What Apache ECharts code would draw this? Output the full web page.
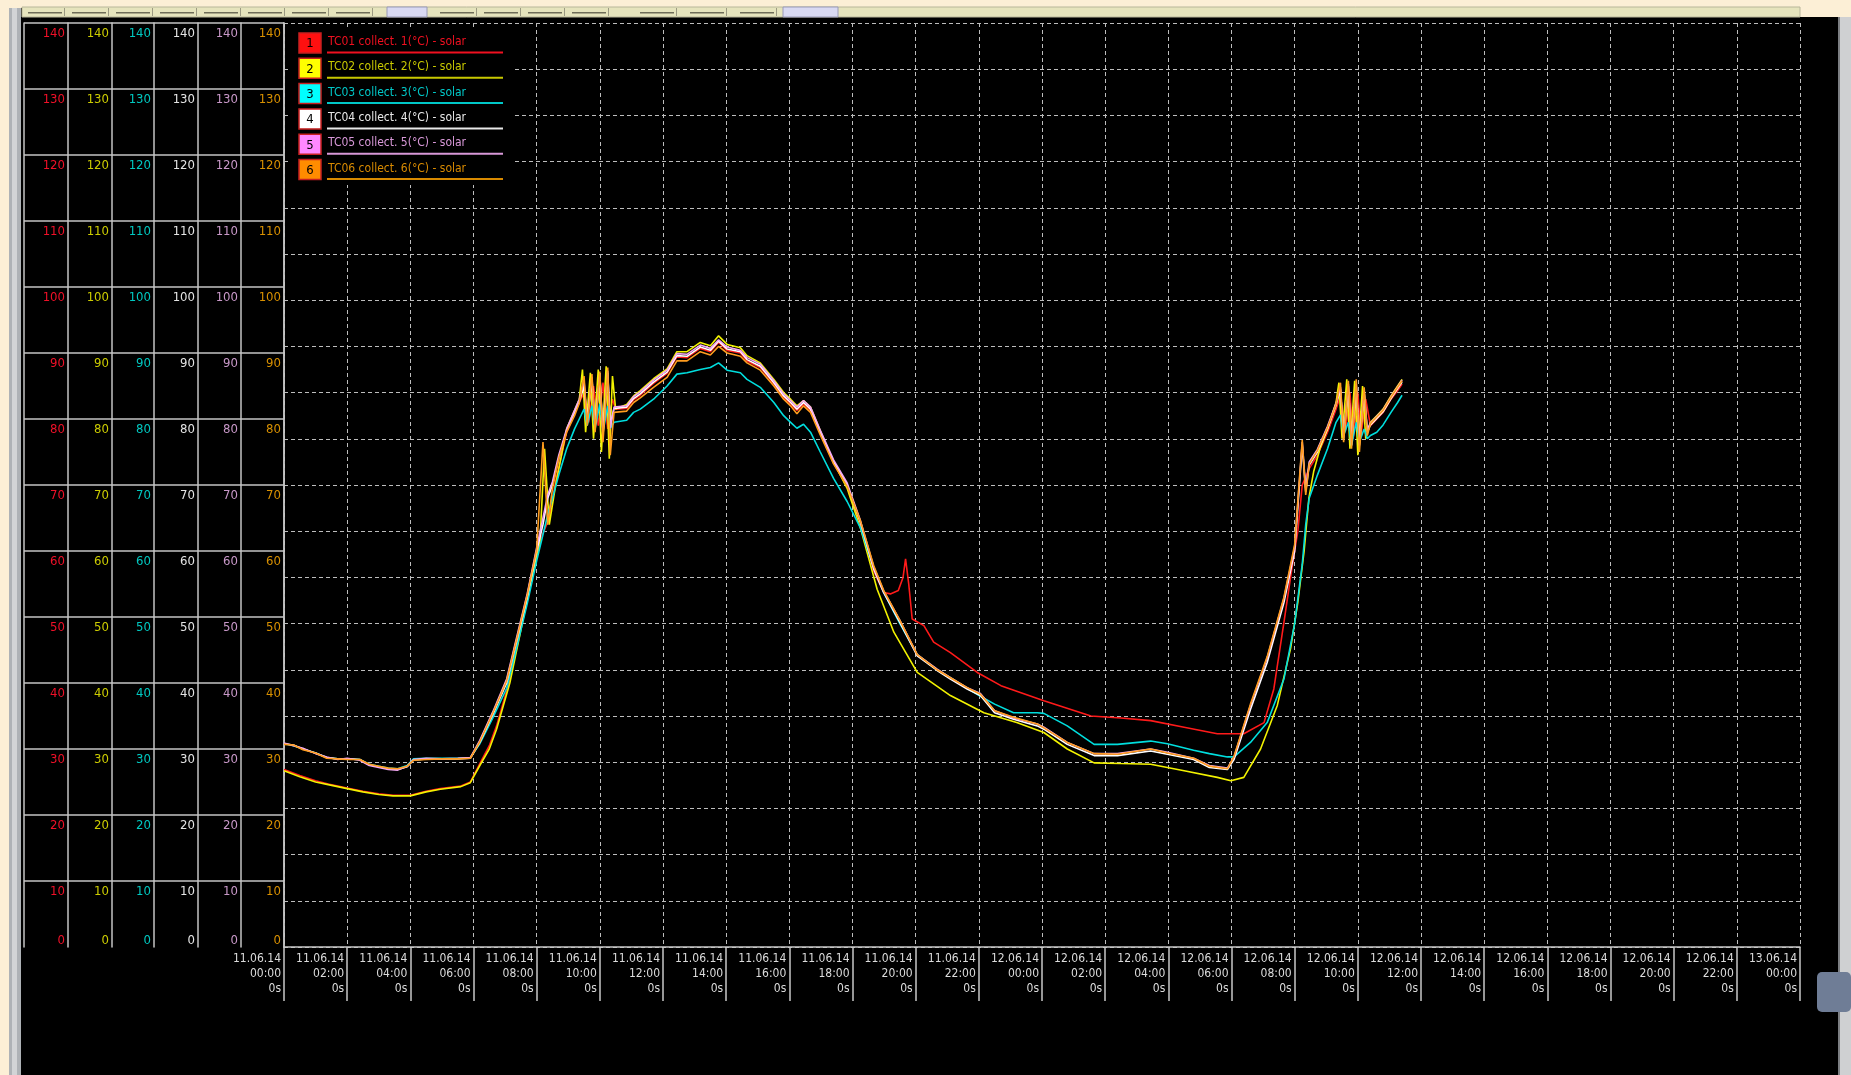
<!DOCTYPE html>
<html><head><meta charset="utf-8">
<script src="https://cdn.jsdelivr.net/npm/echarts@6/dist/echarts.min.js"></script>
<style>html,body{margin:0;padding:0;background:#000;overflow:hidden}#c{width:1851px;height:1075px}</style>
</head><body><div id="c"></div>
<script>
const seriesNames = [
  'TC01 collect. 1(°C) - solar',
  'TC02 collect. 2(°C) - solar',
  'TC03 collect. 3(°C) - solar',
  'TC04 collect. 4(°C) - solar',
  'TC05 collect. 5(°C) - solar',
  'TC06 collect. 6(°C) - solar'
];
const seriesNumbers = ['1', '2', '3', '4', '5', '6'];
const seriesColors = ['#ff1a1a', '#f2f200', '#00dede', '#ffffff', '#f4a8f4', '#ff9c1e'];
const legendTextColors = ['#f01020', '#c8c800', '#00c8c8', '#e8e8e8', '#d898d8', '#d88a00'];
const legendBoxColors = ['#ff1010', '#ffff00', '#00ffff', '#ffffff', '#ff88ff', '#ff8c00'];
const panelColors = ['#f01028', '#cccc00', '#00c8c0', '#e4e4e4', '#c898c8', '#d89000'];

const xTickLabels = [
  '11.06.14\n00:00\n0s', '11.06.14\n02:00\n0s', '11.06.14\n04:00\n0s', '11.06.14\n06:00\n0s',
  '11.06.14\n08:00\n0s', '11.06.14\n10:00\n0s', '11.06.14\n12:00\n0s', '11.06.14\n14:00\n0s',
  '11.06.14\n16:00\n0s', '11.06.14\n18:00\n0s', '11.06.14\n20:00\n0s', '11.06.14\n22:00\n0s',
  '12.06.14\n00:00\n0s', '12.06.14\n02:00\n0s', '12.06.14\n04:00\n0s', '12.06.14\n06:00\n0s',
  '12.06.14\n08:00\n0s', '12.06.14\n10:00\n0s', '12.06.14\n12:00\n0s', '12.06.14\n14:00\n0s',
  '12.06.14\n16:00\n0s', '12.06.14\n18:00\n0s', '12.06.14\n20:00\n0s', '12.06.14\n22:00\n0s',
  '13.06.14\n00:00\n0s'
];

// hours since 11.06.14 00:00 (shared by TC03..TC06)
const hoursA = [
  0, 0.3, 0.6, 1.0, 1.35, 1.7, 2.0, 2.4, 2.7, 3.0,
  3.3, 3.6, 3.9, 4.1, 4.5, 5.0, 5.5, 5.9, 6.2, 6.6,
  7.05, 7.4, 7.7, 8.0, 8.2, 8.35, 8.5, 8.7, 8.95, 9.2,
  9.35, 9.5, 9.6, 9.75, 9.85, 10.0, 10.1, 10.25, 10.33, 10.45,
  10.85, 11.07, 11.28, 11.7, 12.13, 12.44, 12.76, 13.18, 13.5, 13.76,
  14.03, 14.45, 14.66, 15.08, 15.51, 15.82, 16.04, 16.24, 16.45, 16.67,
  16.98, 17.4, 17.83, 18.25, 18.67, 18.99, 19.5, 20.05, 20.68, 21.1,
  21.63, 22.05, 22.5, 23.1, 23.85, 24.06, 24.8, 25.65, 26.39, 27.44,
  27.97, 28.8, 29.3, 29.87, 30.08, 30.6, 31.13, 31.66, 32.0, 32.24,
  32.35, 32.46, 32.72, 33.04, 33.31, 33.45, 33.55, 33.7, 33.8, 33.95,
  34.05, 34.2, 34.3, 34.4, 34.6, 34.8, 35.05, 35.26, 35.4
];
const tc03 = [
  30.8, 30.5, 30.0, 29.4, 28.7, 28.5, 28.5, 28.4, 27.7, 27.4,
  27.1, 27.0, 27.5, 28.5, 28.6, 28.6, 28.6, 28.7, 30.8, 34.6,
  39.2, 46.0, 52.0, 58.5, 62.5, 65.5, 68.0, 71.5, 75.5, 78.5,
  80.0, 81.5, 79.0, 82.0, 78.5, 82.3, 78.0, 82.0, 78.6, 79.5,
  79.8, 81.0, 81.5, 83.0, 85.0, 86.8, 87.0, 87.5, 87.8, 88.5,
  87.4, 87.0, 86.0, 84.8, 82.5, 80.5, 79.5, 78.6, 79.2, 78.0,
  75.0, 71.0, 67.5, 63.5, 57.5, 53.7, 49.0, 44.3, 42.0, 40.8,
  39.2, 38.0, 36.8, 35.5, 35.5, 35.4, 33.5, 30.7, 30.7, 31.2,
  30.8, 29.8, 29.3, 28.8, 28.8, 31.0, 34.0, 40.6, 49.0, 58.0,
  64.0, 68.0, 71.5, 75.5, 79.5, 80.6, 77.5, 79.5, 76.0, 79.5,
  76.5, 78.5, 77.0, 77.5, 78.0, 79.1, 81.0, 82.5, 83.6
];
const tc04 = [
  30.8, 30.6, 30.0, 29.4, 28.7, 28.5, 28.5, 28.4, 27.6, 27.3,
  27.0, 26.9, 27.3, 28.3, 28.5, 28.5, 28.5, 28.6, 31.0, 35.1,
  40.0, 47.0, 53.0, 60.0, 64.0, 68.0, 70.0, 74.0, 78.2, 81.0,
  82.6, 85.0, 80.0, 86.0, 79.0, 86.5, 78.0, 87.0, 79.0, 81.6,
  81.8, 83.1, 83.8, 85.6, 87.1, 89.6, 89.5, 90.9, 90.4, 91.8,
  90.6, 90.2, 89.0, 88.0, 85.5, 83.5, 82.5, 81.5, 82.5, 81.5,
  78.0, 73.5, 70.0, 64.4, 57.3, 53.7, 49.2, 44.1, 41.9, 40.6,
  39.1, 38.1, 35.5, 34.5, 33.5, 33.0, 30.7, 29.0, 29.0, 29.7,
  29.2, 28.4, 27.2, 26.9, 28.4, 36.0, 43.1, 52.2, 60.0, 76.0,
  69.0, 73.0, 75.0, 78.5, 82.1, 84.5, 77.0, 85.0, 76.0, 85.0,
  76.0, 84.0, 78.0, 79.1, 80.1, 81.1, 83.1, 84.6, 85.6
];
const tc05 = [
  30.9, 30.5, 30.1, 29.3, 28.8, 28.4, 28.6, 28.3, 27.5, 27.2,
  26.9, 26.8, 27.4, 28.4, 28.6, 28.5, 28.6, 28.7, 31.3, 35.5,
  40.6, 47.6, 53.5, 60.5, 65.0, 68.5, 70.5, 74.5, 78.5, 81.3,
  83.0, 85.8, 79.5, 86.3, 78.8, 86.8, 77.5, 87.3, 78.6, 81.8,
  82.0, 83.4, 84.1, 85.9, 87.4, 89.9, 89.8, 91.2, 90.7, 92.0,
  90.9, 90.4, 89.3, 88.3, 85.8, 83.8, 82.8, 81.8, 82.8, 81.8,
  78.3, 73.8, 70.3, 64.6, 57.6, 53.9, 49.5, 44.3, 42.1, 40.8,
  39.3, 38.4, 35.8, 34.7, 33.8, 33.3, 31.0, 29.3, 29.3, 30.0,
  29.5, 28.6, 27.5, 27.1, 28.8, 36.6, 43.8, 52.8, 60.6, 76.5,
  69.5, 73.5, 75.4, 78.9, 82.4, 84.8, 77.5, 85.3, 76.6, 85.3,
  76.5, 84.3, 78.4, 79.4, 80.4, 81.4, 83.4, 84.9, 85.9
];
const tc06 = [
  30.7, 30.6, 29.9, 29.4, 28.6, 28.5, 28.4, 28.4, 27.7, 27.4,
  27.1, 27.0, 27.4, 28.3, 28.4, 28.5, 28.5, 28.6, 31.1, 35.3,
  40.3, 47.3, 53.3, 60.2, 76.5, 64.0, 69.5, 74.0, 78.0, 80.5,
  82.4, 86.5, 79.0, 86.8, 78.0, 87.2, 76.5, 87.8, 74.5, 81.0,
  81.2, 82.5, 83.2, 84.8, 86.3, 88.8, 88.8, 90.2, 89.7, 91.0,
  90.0, 89.5, 88.5, 87.4, 85.0, 83.0, 82.0, 80.8, 82.0, 81.0,
  77.6, 73.2, 69.8, 64.6, 57.8, 54.0, 49.5, 44.3, 42.0, 40.8,
  39.3, 38.3, 35.8, 34.8, 33.8, 33.2, 31.0, 29.3, 29.2, 30.0,
  29.4, 28.6, 27.4, 27.0, 28.9, 36.8, 44.0, 53.0, 61.0, 76.8,
  68.5, 73.2, 75.2, 78.7, 82.2, 85.5, 76.5, 85.8, 75.5, 86.0,
  75.0, 84.8, 77.5, 79.3, 80.3, 81.3, 83.3, 84.8, 85.8
];
// [hour, °C]
const tc01 = [
  [0, 26.9], [0.5, 26.0], [1.0, 25.2], [1.4, 24.7], [2.0, 24.1], [2.5, 23.6], [3.0, 23.2], [3.45, 23.0],
  [4.0, 23.0], [4.5, 23.6], [4.95, 24.0], [5.6, 24.4], [5.9, 25.0], [6.2, 27.8], [6.5, 30.5], [6.73, 33.5],
  [7.15, 40.5], [7.5, 48.5], [7.8, 55.5], [8.1, 61.5], [8.4, 65.0], [8.6, 70.5], [8.95, 78.0], [9.35, 82.5],
  [9.5, 84.0], [9.65, 79.5], [9.8, 85.0], [9.95, 79.0], [10.1, 85.5], [10.25, 78.5], [10.4, 83.0], [10.5, 81.5],
  [10.85, 81.6], [11.07, 82.9], [11.28, 83.6], [11.7, 85.4], [12.13, 86.9], [12.44, 89.4], [12.76, 89.3], [13.18, 90.7],
  [13.5, 90.2], [13.76, 91.6], [14.03, 90.4], [14.45, 90.0], [14.66, 88.8], [15.08, 87.8], [15.51, 85.3], [15.82, 83.3],
  [16.04, 82.3], [16.24, 81.3], [16.45, 82.3], [16.67, 81.3], [16.98, 77.8], [17.4, 73.3], [17.83, 69.8], [18.25, 64.2],
  [18.67, 57.0], [18.99, 53.7], [19.2, 53.5], [19.45, 54.0], [19.6, 56.0], [19.68, 58.8], [19.78, 55.0], [19.89, 49.7],
  [20.26, 48.7], [20.57, 46.2], [21.1, 44.6], [21.95, 41.6], [22.7, 39.6], [24.06, 37.3], [25.55, 35.0], [26.5, 34.7],
  [27.44, 34.3], [28.5, 33.3], [29.55, 32.3], [30.39, 32.3], [31.03, 34.0], [31.34, 39.1], [31.66, 49.2], [31.9, 57.0],
  [32.1, 63.0], [32.24, 70.0], [32.46, 72.5], [32.72, 74.5], [33.04, 78.0], [33.31, 81.5], [33.45, 83.5], [33.6, 78.0],
  [33.75, 84.0], [33.85, 77.0], [34.0, 84.0], [34.1, 77.5], [34.25, 83.0], [34.4, 79.0], [34.6, 80.0], [34.8, 81.0],
  [35.05, 83.0], [35.26, 84.3], [35.4, 85.3]
];
const tc02 = [
  [0, 26.7], [0.5, 25.8], [1.0, 25.0], [1.4, 24.6], [2.0, 24.0], [2.5, 23.5], [3.0, 23.1], [3.45, 22.9],
  [4.0, 22.9], [4.5, 23.5], [4.95, 23.9], [5.6, 24.3], [5.9, 24.9], [6.2, 27.5], [6.5, 30.0], [6.73, 33.0],
  [7.15, 40.0], [7.5, 48.0], [7.8, 55.0], [8.1, 61.0], [8.25, 75.5], [8.4, 64.0], [8.6, 70.0], [8.95, 78.5],
  [9.35, 83.0], [9.45, 87.5], [9.55, 78.0], [9.7, 87.0], [9.8, 77.0], [9.95, 87.5], [10.05, 75.0], [10.2, 88.0],
  [10.3, 74.0], [10.4, 86.5], [10.5, 81.5], [10.85, 82.2], [11.07, 83.5], [11.28, 84.3], [11.7, 86.1], [12.13, 87.6],
  [12.44, 90.2], [12.76, 90.2], [13.18, 91.6], [13.5, 91.1], [13.76, 92.6], [14.03, 91.3], [14.45, 90.8], [14.66, 89.6],
  [15.08, 88.5], [15.51, 86.0], [15.82, 84.0], [16.04, 83.0], [16.24, 82.0], [16.45, 82.8], [16.67, 81.8], [16.98, 78.2],
  [17.4, 73.5], [17.83, 69.5], [18.25, 63.5], [18.78, 54.2], [19.31, 47.7], [20.05, 41.6], [21.1, 38.1], [22.16, 35.5],
  [23.2, 34.0], [24.06, 32.5], [24.8, 30.0], [25.65, 27.9], [26.5, 27.8], [27.44, 27.7], [28.5, 26.7], [29.55, 25.7],
  [29.98, 25.2], [30.39, 25.7], [30.92, 30.0], [31.45, 36.6], [31.87, 45.2], [32.1, 52.2], [32.3, 60.0], [32.45, 68.0],
  [32.6, 72.0], [32.8, 75.5], [33.04, 78.5], [33.31, 82.5], [33.4, 85.5], [33.5, 77.0], [33.65, 86.0], [33.75, 75.5],
  [33.9, 85.8], [34.0, 74.5], [34.15, 85.0], [34.25, 77.0], [34.4, 79.5], [34.6, 80.5], [34.8, 81.5], [35.05, 83.5],
  [35.26, 85.0], [35.4, 86.0]
];

const FONT = "'Liberation Sans Narrow','Arial Narrow','DejaVu Sans Condensed',sans-serif";
const chart = echarts.init(document.getElementById('c'), null, {renderer: 'canvas', width: 1851, height: 1075});

const TOP = 23, H = 924;
const colEdges = [24, 68, 112, 154, 198, 241, 284];
const grids = [{left: 284, top: TOP, width: 1516, height: H}];
const xAxes = [{
  type: 'value', gridIndex: 0, min: 0, max: 48, interval: 2,
  axisLine: {show: true, onZero: false, lineStyle: {color: '#c8c8c8', width: 1.5}},
  axisTick: {show: true, length: 54, lineStyle: {color: '#c8c8c8', width: 1.5}},
  axisLabel: {
    formatter: v => xTickLabels[Math.round(v / 2)],
    align: 'right', margin: 4, padding: [0, 3, 0, 0],
    color: '#dcdcdc', fontFamily: FONT, fontSize: 12, lineHeight: 15
  },
  splitLine: {show: true, lineStyle: {color: '#bdbdbd', type: [4, 3], width: 1}}
}];
const yAxes = [{
  type: 'value', gridIndex: 0, min: 0, max: 140, interval: 7,
  axisLine: {show: true, onZero: false, lineStyle: {color: '#c8c8c8', width: 1.5}},
  axisTick: {show: false}, axisLabel: {show: false},
  splitLine: {show: true, lineStyle: {color: '#bdbdbd', type: [4, 3], width: 1}}
}];
for (let i = 0; i < 6; i++) {
  grids.push({left: colEdges[i], top: TOP, width: colEdges[i + 1] - colEdges[i], height: H});
  xAxes.push({type: 'value', gridIndex: i + 1, min: 0, max: 1, show: false});
  const c = panelColors[i];
  yAxes.push({
    type: 'value', gridIndex: i + 1, position: 'right', min: 0, max: 140, interval: 10,
    axisLine: {show: true, onZero: false, lineStyle: {color: '#c4c4c4', width: 1.5}},
    axisTick: {show: false},
    axisLabel: {
      inside: true, margin: 3,
      formatter: v => (v === 0 ? '{z|0}' : '{n|' + v + '}'),
      rich: {
        n: {color: c, fontFamily: FONT, fontSize: 13, padding: [22, 0, 0, 0]},
        z: {color: c, fontFamily: FONT, fontSize: 13, padding: [0, 0, 12, 0]}
      }
    },
    splitLine: {show: true, showMinLine: false, lineStyle: {color: '#c4c4c4', width: 1.5}}
  });
}
yAxes.push({
  type: 'value', gridIndex: 1, position: 'left', min: 0, max: 140,
  axisLine: {show: true, onZero: false, lineStyle: {color: '#c4c4c4', width: 1.5}},
  axisTick: {show: false}, axisLabel: {show: false}, splitLine: {show: false}
});

const seriesData = [
  tc01,
  tc02,
  hoursA.map((h, i) => [h, tc03[i]]),
  hoursA.map((h, i) => [h, tc04[i]]),
  hoursA.map((h, i) => [h, tc05[i]]),
  hoursA.map((h, i) => [h, tc06[i]])
];
const series = seriesNames.map((n, i) => ({
  name: n, type: 'line', xAxisIndex: 0, yAxisIndex: 0,
  data: seriesData[i], showSymbol: false, symbol: 'none',
  lineStyle: {color: seriesColors[i], width: 1.6}, itemStyle: {color: seriesColors[i]},
  z: 3 + i, silent: true
}));

// window decorations + legend
const graphics = [
  {type: 'rect', shape: {x: 0, y: 0, width: 1851, height: 8}, style: {fill: '#fcefd6'}, z: 50},
  {type: 'rect', shape: {x: 1800, y: 0, width: 51, height: 17}, style: {fill: '#fcefd6'}, z: 50},
  {type: 'rect', shape: {x: 22, y: 7, width: 1778, height: 10}, style: {fill: '#e6e4bd', stroke: '#b8b69a', lineWidth: 1}, z: 50},
  {type: 'rect', shape: {x: 387, y: 7, width: 40, height: 10}, style: {fill: '#d9d9f2', stroke: '#9a9ab8', lineWidth: 1}, z: 51},
  {type: 'rect', shape: {x: 783, y: 7, width: 55, height: 10}, style: {fill: '#d9d9f2', stroke: '#9a9ab8', lineWidth: 1}, z: 51},
  {type: 'rect', shape: {x: 0, y: 0, width: 9, height: 1075}, style: {fill: '#fcefd6'}, z: 50},
  {type: 'rect', shape: {x: 9, y: 8, width: 12, height: 1067}, style: {fill: '#aeb2b6'}, z: 50},
  {type: 'rect', shape: {x: 12, y: 8, width: 5, height: 1067}, style: {fill: '#d2d4d6'}, z: 50},
  {type: 'rect', shape: {x: 1838, y: 17, width: 13, height: 1058}, style: {fill: '#cfd0d2'}, z: 50},
  {type: 'rect', shape: {x: 1838, y: 17, width: 2, height: 1058}, style: {fill: '#7c7e82'}, z: 50},
  {type: 'rect', shape: {x: 1817, y: 972, width: 34, height: 40, r: 5}, style: {fill: '#6f7d96'}, z: 51},
  {type: 'rect', shape: {x: 288, y: 27, width: 224, height: 158}, style: {fill: '#000'}, z: 60}
];
// toolbar button marks
const toolbarButtonX = [28, 72, 116, 160, 204, 248, 292, 336, 440, 484, 528, 572, 640, 690, 740];
toolbarButtonX.forEach(x => {
  graphics.push({type: 'rect', shape: {x: x, y: 12, width: 34, height: 1.5}, style: {fill: '#6e6c58'}, z: 51});
  graphics.push({type: 'rect', shape: {x: x + 36, y: 8, width: 1, height: 8}, style: {fill: '#9c9a82'}, z: 51});
});
for (let i = 0; i < 6; i++) {
  const cy = 43 + i * 25.3;
  graphics.push({type: 'rect', shape: {x: 299, y: cy - 10, width: 22, height: 20},
    style: {fill: legendBoxColors[i], stroke: '#c82020', lineWidth: 1.5}, z: 61});
  graphics.push({type: 'text', x: 310, y: cy + 1,
    style: {text: seriesNumbers[i], fill: '#000', font: '13px ' + FONT, textAlign: 'center', textVerticalAlign: 'middle'}, z: 62});
  graphics.push({type: 'text', x: 328, y: cy - 1,
    style: {text: seriesNames[i], fill: legendTextColors[i], font: '12px ' + FONT, textAlign: 'left', textVerticalAlign: 'middle'}, z: 62});
  graphics.push({type: 'rect', shape: {x: 327, y: cy + 8.5, width: 176, height: 2},
    style: {fill: legendTextColors[i]}, z: 62});
}

chart.setOption({
  backgroundColor: '#000',
  animation: false,
  grid: grids,
  xAxis: xAxes,
  yAxis: yAxes,
  series: series,
  graphic: {elements: graphics}
});
</script>
</body></html>
